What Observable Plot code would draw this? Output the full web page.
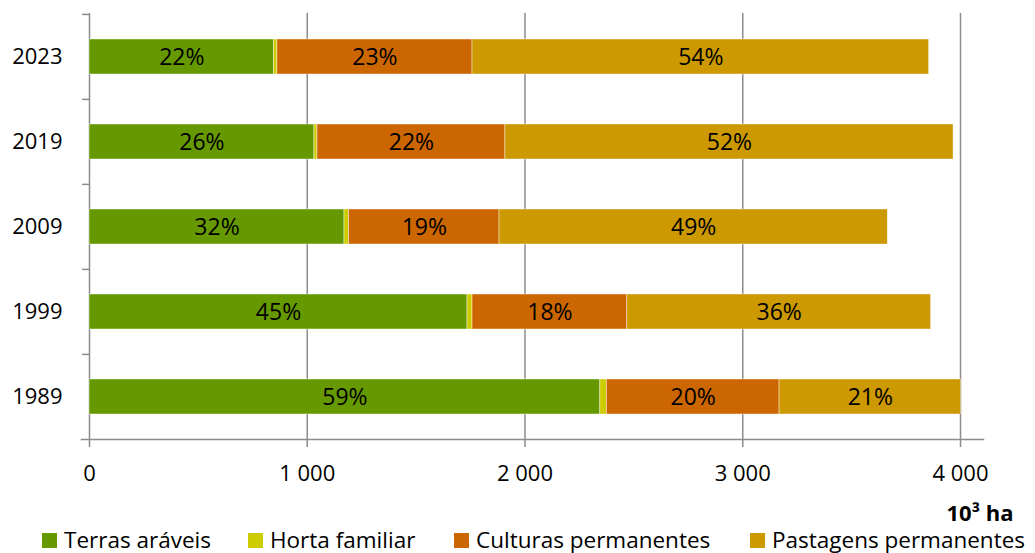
<!DOCTYPE html>
<html>
<head>
<meta charset="utf-8">
<script src="https://cdn.jsdelivr.net/npm/d3@7"></script>
<script src="https://cdn.jsdelivr.net/npm/@observablehq/plot@0.6"></script>
<style>
  html, body { margin: 0; padding: 0; background: #fff; }
  body { width: 1035px; height: 553px; overflow: hidden; position: relative; font-family: "Open Sans", Lato, sans-serif; }
  #legend { position: absolute; left: 0; top: 528px; width: 1035px; height: 24px; font-size: 22.5px; color: #000; }
  #legend .item { position: absolute; top: 0; display: flex; align-items: center; white-space: nowrap; line-height: 24px; height: 24px; }
  #legend .sw { width: 15px; height: 15px; margin-right: 7px; }
</style>
</head>
<body>
<div id="chart"></div>
<div id="legend"></div>
<script>
// ---- data ----
const years = ["2023", "2019", "2009", "1999", "1989"];
const categories = ["Terras aráveis", "Horta familiar", "Culturas permanentes", "Pastagens permanentes"];
const colors = ["#669900", "#cccc00", "#cc6600", "#cc9900"];
const terrasAraveis = [848, 1033, 1171, 1736, 2346];
const hortaFamiliar = [15, 14, 21, 23, 30];
const culturasPermanentes = [896, 863, 691, 711, 793];
const pastagensPermanentes = [2097, 2058, 1783, 1395, 834];
const pctTerras = ["22%", "26%", "32%", "45%", "59%"];
const pctCulturas = ["23%", "22%", "19%", "18%", "20%"];
const pctPastagens = ["54%", "52%", "49%", "36%", "21%"];
const xTicks = [0, 1000, 2000, 3000, 4000];
const unitLabel = ["10³ ha"];

// ---- table built from arrays ----
const series = [terrasAraveis, hortaFamiliar, culturasPermanentes, pastagensPermanentes];
const labels = [pctTerras, null, pctCulturas, pctPastagens];
const rows = [];
years.forEach((y, i) => {
  categories.forEach((c, j) => {
    rows.push({year: y, cat: c, value: series[j][i], label: labels[j] ? labels[j][i] : null});
  });
});

const fmt = d3.formatLocale({thousands: " ", grouping: [3], decimal: ","}).format(",");

const W = 1035, H = 527;
const mLeft = 81, mRight = 52, mTop = 13, mBottom = 88;
const frameW = W - mLeft - mRight;
const pxPerUnit = (frameW - 8 - 23) / 4000;
const xDomain = [-8 / pxPerUnit, (frameW - 8) / pxPerUnit];
const padInner = 0.59;
const step = (H - mTop - mBottom) / years.length;

const fontFam = "'Open Sans', Lato, sans-serif";

const chart = Plot.plot({
  width: W,
  height: H,
  marginLeft: mLeft,
  marginRight: mRight,
  marginTop: mTop,
  marginBottom: mBottom,
  style: {fontFamily: fontFam, fontSize: "22px", color: "#000", background: "#fff"},
  x: {domain: xDomain, ticks: xTicks, label: null},
  y: {domain: years, paddingInner: padInner, paddingOuter: padInner / 2, label: null},
  color: {domain: categories, range: colors},
  marks: [
    Plot.gridX(xTicks, {stroke: "#8c8c8c", strokeOpacity: 1, strokeWidth: 1.5}),
    Plot.barX(rows, Plot.stackX({x: "value", y: "year", fill: "cat", order: categories,
      stroke: "#fff", strokeWidth: 0.6, strokeOpacity: 0.7})),
    Plot.text(rows, Plot.stackX({x: "value", y: "year", z: "cat", order: categories,
      text: "label", fill: "#000", fontSize: 23, dy: 1})),
    Plot.frame({anchor: "bottom", stroke: "#8c8c8c", strokeWidth: 1.5}),
    Plot.axisX(xTicks, {tickSize: 8, tickPadding: 18, tickFormat: fmt, stroke: "#8c8c8c", strokeWidth: 1.5, fill: "#000", fontSize: 22, label: null}),
    Plot.axisY({tickSize: 7, dx: 8, dy: -step / 2, fill: "none", stroke: "#8c8c8c", strokeWidth: 1.5, label: null}),
    Plot.axisY({tickSize: 0, tickPadding: 19, fill: "#000", fontSize: 22, label: null}),
    Plot.text(unitLabel, {text: d => d, frameAnchor: "bottom-right", dx: 30, dy: 74, textAnchor: "end", lineAnchor: "middle", fontWeight: "bold", fontSize: 22, fill: "#000"})
  ]
});
document.getElementById("chart").appendChild(chart);

// ---- legend ----
const legendX = [42, 248, 454, 750];
const legend = document.getElementById("legend");
categories.forEach((c, i) => {
  const item = document.createElement("div");
  item.className = "item";
  item.style.left = legendX[i] + "px";
  const sw = document.createElement("span");
  sw.className = "sw";
  sw.style.background = colors[i];
  const t = document.createElement("span");
  t.textContent = c;
  item.appendChild(sw);
  item.appendChild(t);
  legend.appendChild(item);
});
</script>
</body>
</html>
